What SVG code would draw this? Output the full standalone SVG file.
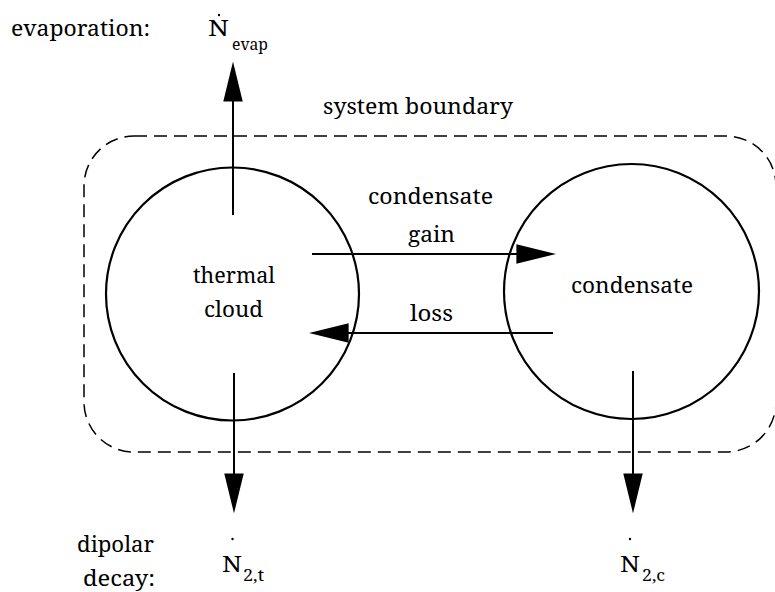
<svg xmlns="http://www.w3.org/2000/svg" width="775" height="592" viewBox="0 0 775 592">
<style>
  text { font-family: 'Noto Serif', 'DejaVu Serif', serif; fill: #000; }
  .t { font-size: 22px; }
  .s { font-size: 16px; }
  .node { fill: none; stroke: #000; stroke-width: 2.2; }
  .conn { stroke: #000; stroke-width: 2; fill: none; }
  .bound { fill: none; stroke: #000; stroke-width: 1.5; stroke-dasharray: 13 7; }
  .dot { fill: #000; }
</style>
<defs>
  <marker id="ah" markerUnits="userSpaceOnUse" markerWidth="40" markerHeight="20" viewBox="0 0 37 18" refX="32" refY="9" orient="auto">
    <path d="M0,0 L37,9 L0,18 z" fill="#000"/>
  </marker>
</defs>
<rect width="775" height="592" fill="#fff"/>

<g id="boundary">
  <rect class="bound" x="84" y="136" width="692" height="316" rx="50" ry="50"/>
  <text class="t" x="323" y="114" textLength="190" lengthAdjust="spacingAndGlyphs">system boundary</text>
</g>

<g id="thermal-cloud">
  <circle class="node" cx="232.5" cy="294" r="126.5"/>
  <text class="t" x="193" y="283" textLength="82" lengthAdjust="spacingAndGlyphs">thermal</text>
  <text class="t" x="204" y="317" textLength="59" lengthAdjust="spacingAndGlyphs">cloud</text>
</g>

<g id="condensate">
  <circle class="node" cx="631.5" cy="291.5" r="127.5"/>
  <text class="t" x="571" y="293" textLength="122" lengthAdjust="spacingAndGlyphs">condensate</text>
</g>

<g id="connectors">
  <line class="conn" x1="233" y1="215" x2="233" y2="67" marker-end="url(#ah)"/>
  <line class="conn" x1="312" y1="254" x2="551" y2="254" marker-end="url(#ah)"/>
  <line class="conn" x1="553" y1="333" x2="314" y2="333" marker-end="url(#ah)"/>
  <line class="conn" x1="234" y1="373" x2="234" y2="508" marker-end="url(#ah)"/>
  <line class="conn" x1="633" y1="371" x2="633" y2="508" marker-end="url(#ah)"/>
</g>

<g id="label-evaporation">
  <text class="t" x="11" y="36" textLength="139" lengthAdjust="spacingAndGlyphs">evaporation:</text>
  <circle class="dot" cx="219" cy="15" r="1.2"/>
  <text class="t" x="208" y="36" textLength="21" lengthAdjust="spacingAndGlyphs">N</text>
  <text class="s" x="232" y="50" textLength="36" lengthAdjust="spacingAndGlyphs">evap</text>
</g>

<g id="label-transfer">
  <text class="t" x="368" y="204" textLength="125" lengthAdjust="spacingAndGlyphs">condensate</text>
  <text class="t" x="408" y="242" textLength="47" lengthAdjust="spacingAndGlyphs">gain</text>
  <text class="t" x="410" y="321" textLength="43" lengthAdjust="spacingAndGlyphs">loss</text>
</g>

<g id="label-decay">
  <text class="t" x="77" y="552" textLength="77" lengthAdjust="spacingAndGlyphs">dipolar</text>
  <text class="t" x="83" y="586" textLength="72" lengthAdjust="spacingAndGlyphs">decay:</text>
  <circle class="dot" cx="232.5" cy="539" r="1.2"/>
  <text class="t" x="222" y="572" textLength="20" lengthAdjust="spacingAndGlyphs">N</text>
  <text class="s" x="243" y="581" textLength="21" lengthAdjust="spacingAndGlyphs">2,t</text>
  <circle class="dot" cx="630" cy="539" r="1.2"/>
  <text class="t" x="620" y="572" textLength="20" lengthAdjust="spacingAndGlyphs">N</text>
  <text class="s" x="642" y="581" textLength="23" lengthAdjust="spacingAndGlyphs">2,c</text>
</g>
</svg>
